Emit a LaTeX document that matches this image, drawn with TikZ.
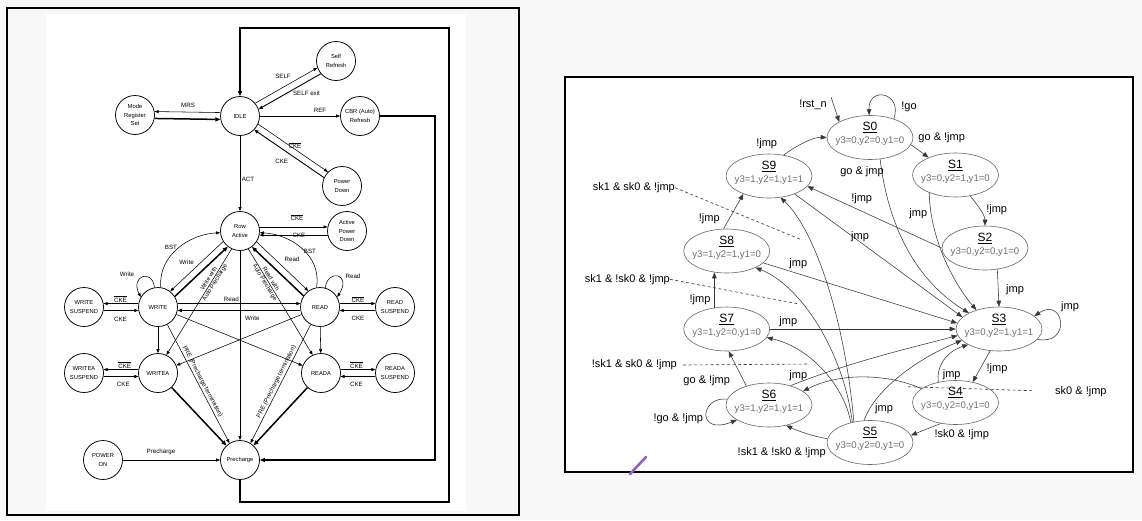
\documentclass[tikz,border=0pt]{standalone}
\usepackage{fontspec}
\setmainfont{Liberation Sans}
\usetikzlibrary{arrows.meta,shapes.geometric}
\definecolor{bgc}{RGB}{248,248,248}
\definecolor{framein}{RGB}{248,248,248}
\definecolor{rowgray}{RGB}{110,110,110}
\definecolor{lnc}{RGB}{55,55,55}
\definecolor{pencil}{RGB}{150,95,200}
\newcommand{\ovl}[1]{$\overline{\mbox{#1}}$}
\newcommand{\rS}[1]{{\fontsize{12}{13}\selectfont\underline{#1}}}
\newcommand{\rY}[1]{{\fontsize{9.6}{11}\selectfont\color{rowgray}#1}}
\newcommand{\stt}[2]{\makebox[0pt][c]{\raisebox{6.7pt}[0pt][0pt]{\rS{#1}}}\makebox[0pt][c]{\raisebox{-6pt}[0pt][0pt]{\rY{#2}}}}
\begin{document}
\begin{tikzpicture}[x=1pt,y=-1pt,
  lcirc/.style={circle,draw,line width=0.75pt,minimum size=39pt,inner sep=0pt,align=center,font=\fontsize{5.8}{8.8}\selectfont},
  lthin/.style={line width=0.55pt,-{Triangle[length=4pt,width=3pt]}},
  lmid/.style={line width=0.9pt,-{Triangle[length=4.2pt,width=3.2pt]}},
  lthick/.style={line width=1.5pt,-{Triangle[length=5pt,width=4pt]}},
  llab/.style={font=\fontsize{6.2}{7}\selectfont,inner sep=0.6pt},
  rstate/.style={ellipse,draw=black!60,line width=0.6pt,minimum width=86pt,minimum height=44pt,inner sep=0pt},
  rarr/.style={draw=lnc,line width=0.55pt,-{Triangle[length=6pt,width=4.6pt]}},
  rlab/.style={font=\fontsize{11}{12}\selectfont,inner sep=0pt},
  lead/.style={draw=lnc,line width=0.6pt,dash pattern=on 3pt off 2.5pt},
]
\useasboundingbox (0,0) rectangle (1142,520);
\fill[bgc] (0,0) rectangle (1142,520);
% ---------------- left panel ----------------
\draw[line width=1.4pt,fill=framein] (7,8) rectangle (519,515);
\fill[white] (46,14) rectangle (466,511);

\node[lcirc] (IDLE) at (240,116) {IDLE};
\node[lcirc] (MRS) at (135,115) {Mode\\Register\\Set};
\node[lcirc] (SR) at (336,61) {Self\\Refresh};
\node[lcirc] (CBR) at (360,116) {CBR (Auto)\\Refresh};
\node[lcirc] (PD) at (342,186) {Power\\Down};
\node[lcirc] (RA) at (240,231) {Row\\Active};
\node[lcirc] (APD) at (347,231) {Active\\Power\\Down};
\node[lcirc] (WR) at (158,307) {WRITE};
\node[lcirc] (WS) at (84,307) {WRITE\\SUSPEND};
\node[lcirc] (RD) at (320,307) {READ};
\node[lcirc] (RS) at (395,307) {READ\\SUSPEND};
\node[lcirc] (WA) at (158,373) {WRITEA};
\node[lcirc] (WAS) at (84,373) {WRITEA\\SUSPEND};
\node[lcirc] (RDA) at (321,373) {READA};
\node[lcirc] (RAS) at (395,373) {READA\\SUSPEND};
\node[lcirc] (PRE) at (240,460) {Precharge};
\node[lcirc] (PON) at (103,460) {POWER\\ON};

\draw[lthin] (IDLE.170) -- (MRS.10);
\draw[lthick] (MRS.350) -- (IDLE.190);
\node[llab] at (188,105) {MRS};
\draw[lthin] (IDLE.40) -- (SR.200);
\draw[lmid] (SR.220) -- (IDLE.20);
\node[llab] at (283,76.4) {SELF};
\node[llab] at (306.5,93.7) {SELF exit};
\draw[lthin] (IDLE) -- (CBR);
\node[llab] at (320,110.5) {REF};
\draw[lthin] (IDLE.-24.5) -- (PD.135.5);
\draw[lmid] (PD.155.5) -- (IDLE.-44.5);
\node[llab] at (295,145.7) {\ovl{CKE}};
\node[llab] at (281.7,161) {CKE};
\draw[lthin] (IDLE) -- (RA);
\node[llab] at (248,179) {ACT};
\draw[lthin] (RA.12) -- (APD.168);
\draw[lthin] (APD.192) -- (RA.348);
\node[llab] at (297,217.5) {\ovl{CKE}};
\node[llab] at (299,235) {CKE};

\draw[lthin] (RA.212.8) -- (WR.52.8);
\draw[lthick] (WR.32.8) -- (RA.232.8);
\node[llab] at (186.6,262.3) {Write};
\draw[lthin] (RA.-33.5) -- (RD.126.5);
\draw[lthick] (RD.146.5) -- (RA.-53.5);
\node[llab] at (292,258.9) {Read};
\draw[lthin] (WR.82) .. controls (158,255) and (190,234) .. (RA.185);
\node[llab] at (171,247) {BST};
\draw[lthin] (RD.100) .. controls (322,255) and (290,234) .. (RA.-5);
\node[llab] at (310,251) {BST};
\draw[lthin] (WR.100) .. controls (152,268) and (130,276) .. (WR.150);
\node[llab] at (127,274.7) {Write};
\draw[lthin] (RD.75) .. controls (328,268) and (352,274) .. (RD.30);
\node[llab] at (353,276.4) {Read};

\draw[lthin] (WR.170) -- (WS.10);
\draw[lthin] (WS.350) -- (WR.190);
\node[llab] at (120.5,299) {\ovl{CKE}};
\node[llab] at (120.5,319.5) {CKE};
\draw[lthin] (RD.10) -- (RS.170);
\draw[lthin] (RS.190) -- (RD.350);
\node[llab] at (358,299.5) {\ovl{CKE}};
\node[llab] at (358,318.5) {CKE};
\draw[lthin] (WR.10) -- (RD.170);
\draw[lmid] (RD.190) -- (WR.350);
\node[llab] at (231.4,298.8) {Read};
\node[llab] at (252.4,318.5) {Write};

\draw[lthin] (RA.245) -- node[llab,sloped,align=center,pos=0.3,font=\fontsize{6}{7}\selectfont]{Write with\\Auto Precharge} (WA.65);
\draw[lthin] (RA.-65) -- node[llab,sloped,align=center,pos=0.3,font=\fontsize{6}{7}\selectfont]{Read with\\Auto Precharge} (RDA.115);
\draw[lthin] (RA) -- (PRE);
\draw[lthin] (WR) -- (WA);
\draw[lthin] (RD) -- (RDA);
\draw[lthin] (WR) -- (RDA);
\draw[lthin] (RD) -- (WA);
\draw[lthin] (WR.-62) -- node[llab,sloped,above=0.8pt]{PRE (Precharge termination)} (PRE.122);
\draw[lthin] (RD.-118) -- node[llab,sloped,above=0.8pt]{PRE (Precharge termination)} (PRE.58);
\draw[lthick] (WA) -- (PRE);
\draw[lthick] (RDA) -- (PRE);

\draw[lthin] (WA.170) -- (WAS.10);
\draw[lthin] (WAS.350) -- (WA.190);
\node[llab] at (124.7,365) {\ovl{CKE}};
\node[llab] at (123.3,384) {CKE};
\draw[lthin] (RDA.10) -- (RAS.170);
\draw[lthin] (RAS.190) -- (RDA.350);
\node[llab] at (356.4,365) {\ovl{CKE}};
\node[llab] at (356.4,384) {CKE};

\draw[lthin] (PON) -- (PRE);
\node[llab] at (161,451.6) {Precharge};

\coordinate (fa) at (435,116);
\coordinate (fb) at (435,460);
\draw[lthick] (CBR) -- (fa) -- (fb) -- (PRE);
\coordinate (ga) at (240,502);
\coordinate (gb) at (449,502);
\coordinate (gc) at (449,28);
\coordinate (gd) at (240,28);
\draw[lthick] (PRE) -- (ga) -- (gb) -- (gc) -- (gd) -- (IDLE);

% ---------------- right panel ----------------
\draw[line width=1.4pt,fill=white] (565,77) rectangle (1133,472);

\node[rstate] (S0) at (870,137.5) {\stt{S0}{y3=0,y2=0,y1=0}};
\node[rstate] (S1) at (955.5,175) {\stt{S1}{y3=0,y2=1,y1=0}};
\node[rstate] (S2) at (985,248) {\stt{S2}{y3=0,y2=0,y1=0}};
\node[rstate] (S3) at (999,329) {\stt{S3}{y3=0,y2=1,y1=1}};
\node[rstate] (S4) at (955.5,402.5) {\stt{S4}{y3=0,y2=0,y1=0}};
\node[rstate] (S5) at (870,442.5) {\stt{S5}{y3=0,y2=0,y1=0}};
\node[rstate] (S6) at (769,405) {\stt{S6}{y3=1,y2=1,y1=1}};
\node[rstate] (S7) at (726.7,329) {\stt{S7}{y3=1,y2=0,y1=0}};
\node[rstate] (S8) at (726.7,251) {\stt{S8}{y3=1,y2=1,y1=0}};
\node[rstate] (S9) at (769,176) {\stt{S9}{y3=1,y2=1,y1=1}};

\coordinate (rst) at (831,97);
\draw[rarr] (rst) -- (S0.153);
\node[rlab] at (813,105) {!rst\_n};
\draw[rarr] (S0.38) .. controls (903,92) and (868,86) .. (S0.92);
\node[rlab] at (909,106.7) {!go};
\draw[rarr] (S0.-10) -- (S1.147);
\node[rlab] at (941.7,137.7) {go \& !jmp};
\draw[rarr] (S9.55) .. controls (800,143) and (815,137) .. (S0.180);
\node[rlab] at (766.7,143.3) {!jmp};
\draw[rarr] (S0.-65) .. controls (888,225) and (915,280) .. (S3.152);
\node[rlab] at (862,171.7) {go \& jmp};
\draw[rarr] (S1.-55) .. controls (980,208) and (985,216) .. (S2.90);
\node[rlab] at (996.7,209.3) {!jmp};
\draw[rarr] (S1.214) .. controls (930,240) and (955,285) .. (S3.140);
\node[rlab] at (918.3,213.3) {jmp};
\draw[rarr] (S2.180) -- (S9.-15);
\node[rlab] at (861.7,198.3) {!jmp};
\draw[rarr] (S2.-60) -- (S3.90);
\node[rlab] at (1015,290) {jmp};
\draw[rarr] (S3.-15) .. controls (1072,346) and (1064,296) .. (S3.20);
\node[rlab] at (1070,306.7) {jmp};
\draw[rarr] (S3.-112) -- (S4.50);
\node[rlab] at (997,369) {!jmp};
\draw[rarr] (S4.130) .. controls (936,368) and (945,352) .. (S3.207);
\node[rlab] at (951.7,375) {jmp};
\draw[rarr] (S4.235) -- (S5.10);
\node[rlab] at (961.7,435) {!sk0 \& !jmp};
\draw[rarr] (S4.158) .. controls (890,374) and (840,372) .. (S6.22);
\draw[rarr] (S6.42) .. controls (850,362) and (910,348) .. (S3.189);
\node[rlab] at (798.3,376) {jmp};
\draw[rarr] (S5.105) .. controls (875,390) and (915,360) .. (S3.197);
\node[rlab] at (884,408.3) {jmp};
\draw[rarr] (S5.175) .. controls (812,436) and (798,431) .. (S6.-50);
\node[rlab] at (781.7,452.3) {!sk1 \& !sk0 \& !jmp};
\draw[rarr] (S5.128) .. controls (845,320) and (815,230) .. (S9.-62);
\draw[rarr] (S5.131) .. controls (843,350) and (800,285) .. (S8.-30);
\draw[rarr] (S5.134) .. controls (845,388) and (812,348) .. (S7.-12);
\draw[rarr] (S9.-35) -- (S3.162);
\node[rlab] at (860,236.7) {jmp};
\draw[rarr] (S8.-18) -- (S3.172);
\node[rlab] at (798.3,263.3) {jmp};
\draw[rarr] (S7) -- (S3);
\node[rlab] at (788.3,321.7) {jmp};
\draw[rarr] (S6.140) -- (S7.-85);
\node[rlab] at (706.7,381) {go \& !jmp};
\draw[rarr] (S6.172) .. controls (700,396) and (696,436) .. (S6.205);
\node[rlab] at (678.3,418.3) {!go \& !jmp};
\draw[rarr] (S7.120) -- (S8.-120);
\node[rlab] at (700,299.3) {!jmp};
\draw[rarr] (S8.98) -- (S9.215);
\node[rlab] at (709.3,218.3) {!jmp};

\node[rlab,anchor=east] (L1) at (675,187.7) {sk1 \& sk0 \& !jmp};
\coordinate (L1e) at (802,240);
\draw[lead] (L1.east) -- (L1e);
\node[rlab,anchor=east] (L2) at (670,279.3) {sk1 \& !sk0 \& !jmp};
\coordinate (L2e) at (799,304);
\draw[lead] (L2.east) -- (L2e);
\node[rlab,anchor=east] (L3) at (677,365) {!sk1 \& sk0 \& !jmp};
\coordinate (L3e) at (808,364);
\draw[lead] ([xshift=6pt]L3.east) -- (L3e);
\node[rlab,anchor=west] (L4) at (1055,391.7) {sk0 \& !jmp};
\coordinate (L4s) at (1032,390.7);
\coordinate (L4e) at (906.7,386.7);
\draw[lead] (L4s) -- (L4e);

\draw[line width=2.6pt,pencil,line cap=round] (630,474) -- (646,457);
\end{tikzpicture}
\end{document}
